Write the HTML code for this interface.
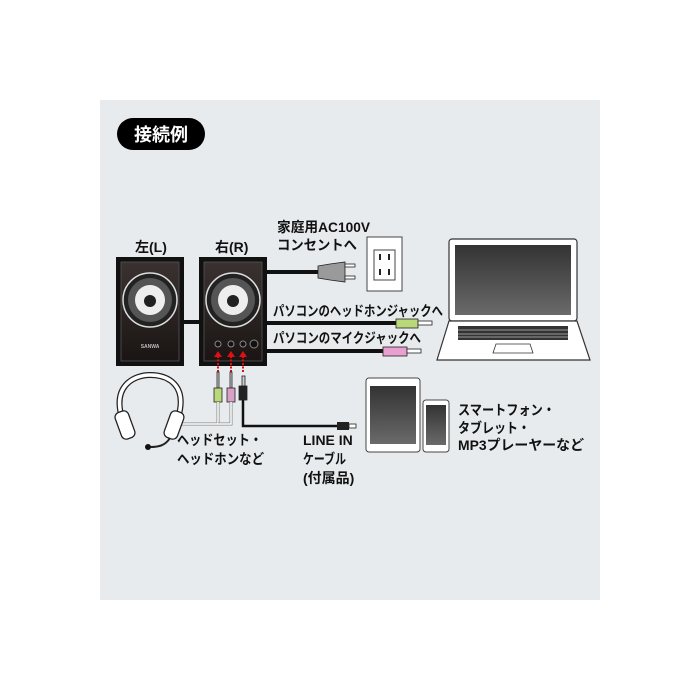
<!DOCTYPE html>
<html><head><meta charset="utf-8"><style>
html,body{margin:0;padding:0;background:#fff}
svg{display:block}
text{font-family:"Liberation Sans","Noto Sans CJK JP",sans-serif;font-weight:bold;fill:#111}
</style></head><body>
<svg width="700" height="700" viewBox="0 0 700 700" xmlns="http://www.w3.org/2000/svg">
<defs>
<linearGradient id="spk" x1="0" y1="0" x2="0" y2="1"><stop offset="0" stop-color="#3a3230"/><stop offset="1" stop-color="#1a1514"/></linearGradient>
<linearGradient id="scr" x1="0" y1="0" x2="0" y2="1"><stop offset="0" stop-color="#333"/><stop offset="1" stop-color="#6a6a6a"/></linearGradient>
</defs>
<rect x="100" y="100" width="500" height="500" fill="#e8ebee"/>
<rect x="117" y="118" width="88" height="32" rx="16" fill="#000"/>
<text x="161" y="141" font-size="18" text-anchor="middle" style="fill:#fff">接続例</text>

<g stroke="#111" stroke-width="4" fill="none">
<line x1="183" y1="322" x2="200" y2="322"/>
<line x1="266" y1="272" x2="330" y2="272"/>
<line x1="266" y1="323" x2="398" y2="323"/>
<line x1="266" y1="351" x2="385" y2="351"/>
</g>
<g>
<rect x="116" y="257" width="68" height="109" fill="#111"/>
<rect x="121" y="262" width="58" height="99" fill="url(#spk)" stroke="#555" stroke-width="0.8"/>
<circle cx="150" cy="300" r="27" fill="#222" stroke="#ddd" stroke-width="1.5"/>
<circle cx="150" cy="300" r="22" fill="#555"/>
<circle cx="150" cy="300" r="15" fill="#eee"/>
<circle cx="150" cy="301" r="6" fill="#222"/>
<text x="150" y="348" font-size="5" text-anchor="middle" style="fill:#bbb">SANWA</text>
<rect x="199" y="257" width="68" height="109" fill="#111"/>
<rect x="204" y="262" width="58" height="99" fill="url(#spk)" stroke="#555" stroke-width="0.8"/>
<circle cx="233" cy="300" r="27" fill="#222" stroke="#ddd" stroke-width="1.5"/>
<circle cx="233" cy="300" r="22" fill="#555"/>
<circle cx="233" cy="300" r="15" fill="#eee"/>
<circle cx="233" cy="301" r="6" fill="#222"/>
<g fill="#111" stroke="#888" stroke-width="1"><circle cx="218" cy="344" r="3"/><circle cx="231" cy="344" r="3"/><circle cx="243" cy="344" r="3"/><circle cx="254" cy="344" r="4"/></g>
</g>
<g stroke="#e01010" stroke-width="2" fill="#e01010">
<line x1="218" y1="372" x2="218" y2="356" stroke-dasharray="2 1.5"/><path d="M214 357 L218 351 L222 357Z" stroke="none"/>
<line x1="231" y1="372" x2="231" y2="356" stroke-dasharray="2 1.5"/><path d="M227 357 L231 351 L235 357Z" stroke="none"/>
<line x1="243" y1="372" x2="243" y2="356" stroke-dasharray="2 1.5"/><path d="M239 357 L243 351 L247 357Z" stroke="none"/>
</g>
<g stroke="#222" stroke-width="0.8">
<rect x="217" y="372" width="2" height="16" fill="#ccc"/><rect x="214" y="388" width="8" height="14" fill="#b8d87a"/>
<rect x="230" y="372" width="2" height="16" fill="#ccc"/><rect x="227" y="388" width="8" height="14" fill="#d9a0c8"/>
<rect x="242" y="376" width="3" height="10" fill="#ccc"/><rect x="239" y="386" width="8" height="14" fill="#222"/>
</g>
<g fill="none">
<path d="M218 402 V424 H180" stroke="#888" stroke-width="3"/><path d="M218 402 V424 H180" stroke="#fff" stroke-width="1.5"/>
<path d="M231 402 V424 H218" stroke="#888" stroke-width="3"/><path d="M231 402 V424 H218" stroke="#fff" stroke-width="1.5"/>
<path d="M243 400 V426 H345" stroke="#111" stroke-width="2.5"/>
</g>
<rect x="337" y="422" width="12" height="8" fill="#222"/><rect x="349" y="424" width="7" height="4" fill="#fff" stroke="#222" stroke-width="0.8"/>
<g fill="#fff" stroke="#222" stroke-width="1.3">
<path d="M122 418 C112 385 135 375 150 375 C168 375 188 385 178 418" fill="none" stroke-width="6"/>
<path d="M122 418 C112 385 135 375 150 375 C168 375 188 385 178 418" fill="none" stroke="#fff" stroke-width="3.5"/>
<rect x="118" y="411" width="14" height="28" rx="5" transform="rotate(-20 125 425)"/>
<rect x="167" y="411" width="14" height="28" rx="5" transform="rotate(20 174 425)"/>
<path d="M170 438 C165 446 158 447 150 447" fill="none" stroke-width="2"/>
</g>
<circle cx="148" cy="447" r="3" fill="#111"/>
<path d="M318 266 L330 264 L345 262 L345 282 L330 280 L318 278Z" fill="#9a9a9a" stroke="#222" stroke-width="0.8"/>
<g stroke="#222" stroke-width="0.8" fill="#fff"><rect x="345" y="264" width="10" height="3"/><rect x="345" y="276" width="10" height="3"/></g>
<rect x="367" y="237" width="35" height="54" fill="#fff" stroke="#444" stroke-width="1"/>
<rect x="374" y="250" width="21" height="30" fill="#fff" stroke="#444" stroke-width="1"/>
<g fill="#222"><rect x="379" y="254" width="2" height="6"/><rect x="388" y="254" width="2" height="6"/><rect x="379" y="269" width="2" height="6"/><rect x="388" y="269" width="2" height="6"/></g>
<g stroke="#222" stroke-width="0.8">
<rect x="396" y="319" width="22" height="9" fill="#b8d87a"/><rect x="418" y="321" width="14" height="4" fill="#fff"/>
<rect x="383" y="347" width="24" height="9" fill="#e8a0d0"/><rect x="407" y="349" width="14" height="4" fill="#fff"/>
</g>
<rect x="449" y="239" width="128" height="82" rx="3" fill="#fff" stroke="#333" stroke-width="1.2"/>
<rect x="455" y="245" width="116" height="70" fill="url(#scr)"/>
<path d="M449 321 L577 321 L590 360 L437 360Z" fill="#fff" stroke="#333" stroke-width="1.2"/>
<rect x="458" y="326" width="110" height="14" fill="#333"/>
<g stroke="#fff" stroke-width="0.6"><line x1="458" y1="330" x2="568" y2="330"/><line x1="458" y1="334" x2="568" y2="334"/><line x1="458" y1="337" x2="568" y2="337"/></g>
<path d="M496 344 L530 344 L533 353 L493 353Z" fill="#fff" stroke="#333" stroke-width="0.8"/>
<rect x="366" y="378" width="54" height="74" rx="3" fill="#fff" stroke="#444" stroke-width="1"/>
<rect x="370" y="386" width="46" height="58" fill="url(#scr)"/>
<rect x="423" y="400" width="26" height="52" rx="3" fill="#fff" stroke="#444" stroke-width="1"/>
<rect x="426" y="405" width="20" height="40" fill="url(#scr)"/>
<g font-size="14">
<text x="135" y="252">左(L)</text>
<text x="215" y="252">右(R)</text>
<text x="277" y="232" textLength="93" lengthAdjust="spacingAndGlyphs">家庭用AC100V</text>
<text x="277" y="250" textLength="80" lengthAdjust="spacingAndGlyphs">コンセントへ</text>
<text x="273" y="316" textLength="170" lengthAdjust="spacingAndGlyphs">パソコンのヘッドホンジャックへ</text>
<text x="273" y="343" textLength="148" lengthAdjust="spacingAndGlyphs">パソコンのマイクジャックへ</text>
<text x="177" y="445" textLength="85" lengthAdjust="spacingAndGlyphs">ヘッドセット・</text>
<text x="177" y="464" textLength="87" lengthAdjust="spacingAndGlyphs">ヘッドホンなど</text>
<text x="303" y="445">LINE IN</text>
<text x="303" y="464" textLength="43" lengthAdjust="spacingAndGlyphs">ケーブル</text>
<text x="303" y="483">(付属品)</text>
<text x="458" y="415" textLength="97" lengthAdjust="spacingAndGlyphs">スマートフォン・</text>
<text x="458" y="433" textLength="72" lengthAdjust="spacingAndGlyphs">タブレット・</text>
<text x="458" y="450" textLength="126" lengthAdjust="spacingAndGlyphs">MP3プレーヤーなど</text>
</g>
</svg>
</body></html>
